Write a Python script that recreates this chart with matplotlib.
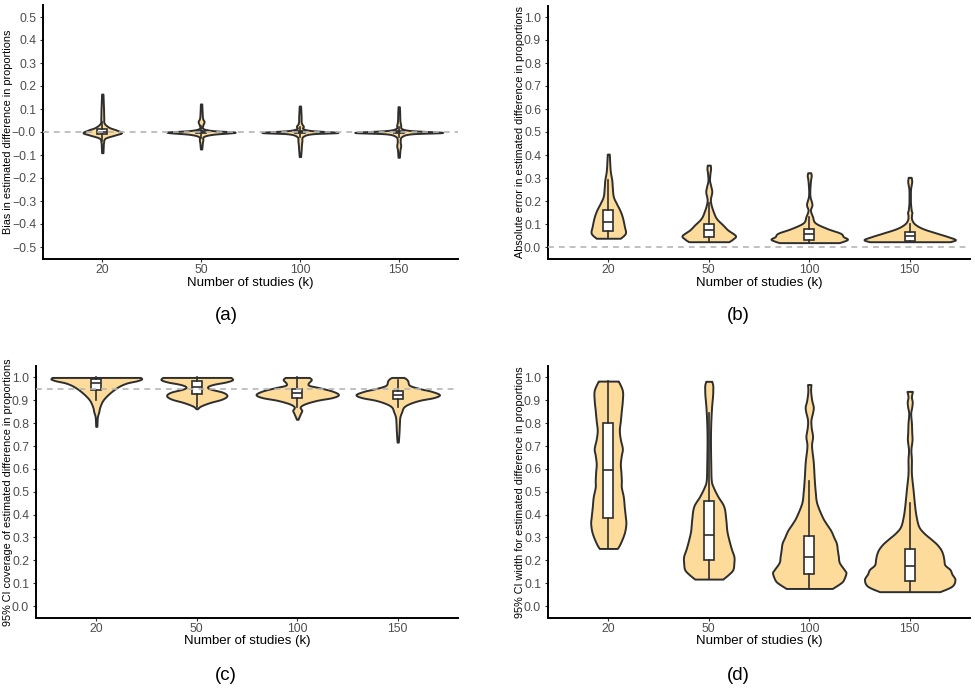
import numpy as np
import matplotlib
matplotlib.use("Agg")
import matplotlib.pyplot as plt

plt.rcParams['font.family'] = ['Liberation Sans', 'DejaVu Sans']

#%% data
k_labels = ["20", "50", "100", "150"]

# violin outlines: value levels (bottom -> top) and half widths (category units)
a_levels = [
    [-0.09, -0.06, -0.045, -0.027, -0.013, -0.003, 0.009, 0.02, 0.038, 0.06, 0.096, 0.13, 0.165],
    [-0.074, -0.05, -0.035, -0.02, -0.01, -0.001, 0.006, 0.015, 0.03, 0.045, 0.06, 0.09, 0.122],
    [-0.107, -0.08, -0.06, -0.04, -0.02, -0.008, -0.002, 0.006, 0.015, 0.025, 0.04, 0.07, 0.113],
    [-0.11, -0.08, -0.06, -0.04, -0.02, -0.008, -0.002, 0.006, 0.015, 0.03, 0.05, 0.08, 0.11],
]
a_half = [
    [0.007, 0.01, 0.013, 0.03, 0.13, 0.195, 0.14, 0.07, 0.02, 0.015, 0.013, 0.01, 0.007],
    [0.007, 0.012, 0.018, 0.025, 0.12, 0.345, 0.12, 0.02, 0.018, 0.03, 0.015, 0.01, 0.007],
    [0.007, 0.012, 0.015, 0.02, 0.03, 0.12, 0.385, 0.12, 0.03, 0.035, 0.015, 0.012, 0.007],
    [0.007, 0.012, 0.02, 0.015, 0.03, 0.13, 0.445, 0.13, 0.03, 0.02, 0.012, 0.01, 0.007],
]
a_box = [  # q1, median, q3, whisker low, whisker high
    [-0.008, 0.0, 0.012, -0.04, 0.045],
    [-0.006, 0.0, 0.006, -0.025, 0.025],
    [-0.005, 0.0, 0.005, -0.02, 0.02],
    [-0.005, 0.0, 0.005, -0.02, 0.02],
]

b_levels = [
    [0.038, 0.06, 0.09, 0.13, 0.16, 0.19, 0.22, 0.26, 0.29, 0.33, 0.37, 0.404],
    [0.023, 0.035, 0.05, 0.074, 0.096, 0.125, 0.16, 0.19, 0.21, 0.24, 0.265, 0.29, 0.32, 0.34, 0.356],
    [0.019, 0.033, 0.045, 0.06, 0.08, 0.105, 0.132, 0.16, 0.185, 0.219, 0.25, 0.29, 0.31, 0.323],
    [0.023, 0.032, 0.045, 0.06, 0.08, 0.1, 0.12, 0.14, 0.15, 0.16, 0.19, 0.22, 0.25, 0.27, 0.285, 0.303],
]
b_half = [
    [0.12, 0.17, 0.16, 0.14, 0.115, 0.08, 0.05, 0.04, 0.035, 0.02, 0.014, 0.01],
    [0.2, 0.24, 0.265, 0.19, 0.14, 0.075, 0.04, 0.02, 0.017, 0.03, 0.02, 0.008, 0.012, 0.018, 0.015],
    [0.30, 0.38, 0.34, 0.31, 0.18, 0.06, 0.033, 0.012, 0.027, 0.008, 0.006, 0.013, 0.02, 0.015],
    [0.40, 0.455, 0.38, 0.27, 0.13, 0.05, 0.02, 0.018, 0.022, 0.015, 0.008, 0.007, 0.008, 0.015, 0.02, 0.015],
]
b_box = [
    [0.071, 0.11, 0.16, 0.038, 0.29],
    [0.045, 0.074, 0.099, 0.023, 0.19],
    [0.032, 0.055, 0.08, 0.019, 0.13],
    [0.027, 0.048, 0.067, 0.023, 0.10],
]

c_levels = [
    [0.786, 0.81, 0.83, 0.85, 0.87, 0.90, 0.93, 0.958, 0.975, 0.985, 0.993, 1.0],
    [0.863, 0.875, 0.89, 0.905, 0.92, 0.935, 0.95, 0.96, 0.97, 0.98, 0.99, 1.0],
    [0.817, 0.83, 0.845, 0.856, 0.871, 0.885, 0.90, 0.912, 0.925, 0.94, 0.955, 0.965, 0.975, 0.99, 1.0],
    [0.717, 0.74, 0.77, 0.80, 0.827, 0.85, 0.87, 0.885, 0.90, 0.912, 0.925, 0.94, 0.95, 0.965, 0.985, 0.995, 1.0],
]
c_half = [
    [0.006, 0.008, 0.012, 0.025, 0.035, 0.066, 0.13, 0.215, 0.30, 0.40, 0.45, 0.44],
    [0.007, 0.04, 0.13, 0.25, 0.30, 0.26, 0.13, 0.11, 0.17, 0.29, 0.355, 0.34],
    [0.008, 0.02, 0.035, 0.045, 0.03, 0.08, 0.2, 0.35, 0.41, 0.35, 0.22, 0.12, 0.11, 0.14, 0.12],
    [0.006, 0.01, 0.014, 0.017, 0.022, 0.04, 0.06, 0.115, 0.22, 0.36, 0.415, 0.33, 0.23, 0.12, 0.10, 0.08, 0.06],
]
c_box = [
    [0.946, 0.975, 0.995, 0.90, 1.0],
    [0.927, 0.956, 0.985, 0.87, 1.0],
    [0.91, 0.93, 0.95, 0.87, 1.0],
    [0.904, 0.921, 0.94, 0.87, 0.988],
]

d_levels = [
    [0.252, 0.275, 0.32, 0.36, 0.39, 0.43, 0.477, 0.52, 0.55, 0.59, 0.623, 0.66, 0.689, 0.73, 0.769,
     0.81, 0.856, 0.90, 0.943, 0.984],
    [0.118, 0.14, 0.16, 0.19, 0.217, 0.25, 0.29, 0.33, 0.377, 0.435, 0.48, 0.52, 0.55, 0.62, 0.725,
     0.80, 0.87, 0.92, 0.943, 0.965, 0.983],
    [0.077, 0.10, 0.114, 0.144, 0.158, 0.19, 0.216, 0.245, 0.275, 0.30, 0.33, 0.36, 0.39, 0.45, 0.50,
     0.555, 0.63, 0.70, 0.741, 0.78, 0.814, 0.85, 0.872, 0.90, 0.94, 0.969],
    [0.063, 0.087, 0.116, 0.14, 0.16, 0.18, 0.203, 0.225, 0.247, 0.27, 0.29, 0.32, 0.348, 0.39, 0.435,
     0.51, 0.58, 0.64, 0.683, 0.727, 0.76, 0.80, 0.842, 0.87, 0.893, 0.915, 0.939],
]
d_half = [
    [0.09, 0.12, 0.16, 0.175, 0.17, 0.16, 0.15, 0.13, 0.13, 0.125, 0.12, 0.13, 0.14, 0.12, 0.11,
     0.12, 0.13, 0.14, 0.14, 0.10],
    [0.14, 0.2, 0.24, 0.25, 0.25, 0.225, 0.2, 0.18, 0.17, 0.15, 0.09, 0.045, 0.025, 0.02, 0.017,
     0.02, 0.028, 0.038, 0.04, 0.04, 0.03],
    [0.23, 0.31, 0.34, 0.365, 0.35, 0.30, 0.29, 0.28, 0.27, 0.245, 0.215, 0.17, 0.13, 0.075, 0.06,
     0.05, 0.04, 0.023, 0.033, 0.02, 0.017, 0.035, 0.04, 0.025, 0.014, 0.017],
    [0.30, 0.42, 0.45, 0.42, 0.40, 0.35, 0.34, 0.33, 0.31, 0.27, 0.22, 0.14, 0.09, 0.065, 0.05,
     0.033, 0.017, 0.017, 0.012, 0.023, 0.02, 0.017, 0.01, 0.02, 0.025, 0.017, 0.027],
]
d_box = [
    [0.385, 0.595, 0.80, 0.252, 0.984],
    [0.20, 0.31, 0.46, 0.118, 0.845],
    [0.14, 0.215, 0.305, 0.077, 0.545],
    [0.11, 0.175, 0.25, 0.063, 0.45],
]

ylabels = ["Bias in estimated difference in proportions",
           "Absolute error in estimated difference in proportions",
           "95% CI coverage of estimated difference in proportions",
           "95% CI width for estimated difference in proportions"]
panel_tags = ["(a)", "(b)", "(c)", "(d)"]
ref_lines = [0.0, 0.0, 0.95, None]

FILL = "#FDDB9A"
EDGE = "#2E2E2E"


#----------------------------------------------------------------------------------------
def smooth(levels, half, n=10):
    # catmull-rom through the read-off knots, only to round the outline
    P = np.column_stack([levels, half])
    P = np.vstack([P[0], P, P[-1]])
    out = []
    t = np.linspace(0, 1, n, endpoint=False)[:, None]
    for i in range(1, len(P) - 2):
        p0, p1, p2, p3 = P[i - 1], P[i], P[i + 1], P[i + 2]
        out.append(0.5 * (2 * p1 + (-p0 + p2) * t + (2 * p0 - 5 * p1 + 4 * p2 - p3) * t**2
                          + (-p0 + 3 * p1 - 3 * p2 + p3) * t**3))
    out.append(P[-2][None])
    S = np.vstack(out)
    return S[:, 0], np.clip(S[:, 1], 0.004, None)


def panel(ax, levels, half, boxes, ylo, yhi, ref):
    stats, widths = [], []
    for lv, hw in zip(levels, half):
        y, w = smooth(lv, hw)
        stats.append(dict(coords=y, vals=w, mean=np.mean(lv), median=np.median(lv),
                          min=lv[0], max=lv[-1]))
        widths.append(2 * max(w))
    pos = np.arange(1, len(levels) + 1)
    parts = ax.violin(stats, positions=pos, widths=widths, showmeans=False,
                      showextrema=False, showmedians=False)
    for b in parts['bodies']:
        b.set_facecolor(FILL)
        b.set_edgecolor(EDGE)
        b.set_linewidth(1.4)
        b.set_alpha(1)
        b.set_zorder(2)

    bstats = [dict(q1=q1, med=md, q3=q3, whislo=lo, whishi=hi)
              for q1, md, q3, lo, hi in boxes]
    ax.bxp(bstats, positions=pos, widths=0.1, showcaps=False, showfliers=False,
           patch_artist=True, manage_ticks=False, zorder=3,
           boxprops=dict(facecolor='white', edgecolor=EDGE, linewidth=1.2),
           medianprops=dict(color=EDGE, linewidth=1.2),
           whiskerprops=dict(color=EDGE, linewidth=1.2))

    if ref is not None:
        ax.axhline(ref, color='#B5B5B5', lw=1.2, ls=(0, (3.5, 3)), zorder=4)

    ax.set_xlim(0.4, 4.6)
    ax.set_ylim(ylo - 0.05 * (yhi - ylo), yhi + 0.05 * (yhi - ylo))
    ax.set_xticks(pos)
    ax.set_xticklabels(k_labels)
    ticks = np.round(np.arange(ylo, yhi + 0.01, 0.1), 1)
    ax.set_yticks(ticks)
    ax.set_yticklabels([f"{v:.1f}".replace("-", "\u2212") for v in ticks])
    for s in ['top', 'right']:
        ax.spines[s].set_visible(False)
    for s in ['left', 'bottom']:
        ax.spines[s].set_linewidth(1.4)
        ax.spines[s].set_color('black')
    ax.tick_params(length=2.5, width=0.8, color='#333333', labelcolor='#4D4D4D',
                   labelsize=8.8, pad=2.5)
    ax.tick_params(axis='x', pad=1.5)
    ax.set_xlabel("Number of studies (k)", fontsize=9.5, color='black', va='center')


#----------------------------------------------------------------------------------------
W, H = 975, 688
fig = plt.figure(figsize=(W / 100, H / 100), dpi=100)

# axes boxes in pixels: left, top, right, bottom
boxes_px = [(43, 5.5, 458, 258.5), (548, 5.5, 970, 258.5),
            (36, 366, 458, 617.5), (548, 366, 970, 617.5)]
ylab_x = [8, 520, 8, 520]
xlab_y = [283, 283, 641, 641]
tag_xy = [(226, 315), (738, 315), (226, 675), (738, 675)]

all_data = [(a_levels, a_half, a_box, -0.5, 0.5),
            (b_levels, b_half, b_box, 0.0, 1.0),
            (c_levels, c_half, c_box, 0.0, 1.0),
            (d_levels, d_half, d_box, 0.0, 1.0)]

for i, (lv, hw, bx, ylo, yhi) in enumerate(all_data):
    l, t, r, b = boxes_px[i]
    ax = fig.add_axes([l / W, 1 - b / H, (r - l) / W, (b - t) / H])
    panel(ax, lv, hw, bx, ylo, yhi, ref_lines[i])
    ax.set_ylabel(ylabels[i], fontsize=7.8, color='black', va='center')
    ax.yaxis.set_label_coords((ylab_x[i] - l) / (r - l), 0.5)
    ax.xaxis.set_label_coords(0.5, -(xlab_y[i] - b) / (b - t))
    fig.text(tag_xy[i][0] / W, 1 - tag_xy[i][1] / H, panel_tags[i],
             fontsize=13.5, ha='center', va='center')

fig.savefig("out.png", dpi=100)
